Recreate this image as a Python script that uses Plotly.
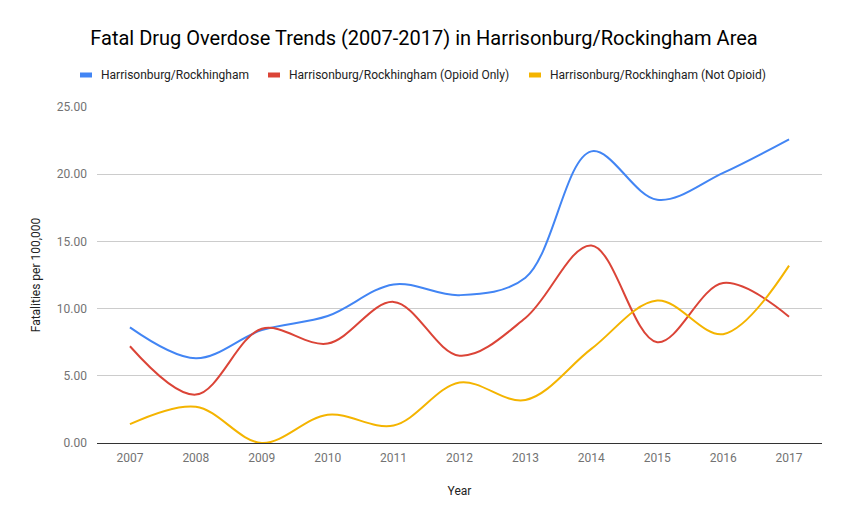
import plotly.graph_objects as go

years = ["2007", "2008", "2009", "2010", "2011", "2012", "2013", "2014", "2015", "2016", "2017"]
total = [8.6, 6.3, 8.4, 9.45, 11.8, 11.0, 12.3, 21.7, 18.1, 20.1, 22.6]
opioid = [7.2, 3.6, 8.5, 7.4, 10.5, 6.5, 9.3, 14.7, 7.5, 11.9, 9.4]
not_opioid = [1.4, 2.7, 0.0, 2.1, 1.3, 4.5, 3.2, 7.0, 10.6, 8.1, 13.2]

names = ["Harrisonburg/Rockhingham",
         "Harrisonburg/Rockhingham (Opioid Only)",
         "Harrisonburg/Rockhingham (Not Opioid)"]
colors = ["#4285F4", "#DB4437", "#F4B400"]

W, H = 848, 524
ML, MR, MT, MB = 97, 26, 107, 81
PW, PH = W - ML - MR, H - MT - MB

def px_x(px):
    return (px - ML) / PW

def px_y(py):
    return (H - MB - py) / PH

fig = go.Figure()
for vals, name, col in zip([total, opioid, not_opioid], names, colors):
    fig.add_trace(go.Scatter(
        x=years, y=vals, name=name, mode="lines",
        line=dict(color=col, width=2, shape="spline", smoothing=1.0),
        cliponaxis=False, showlegend=False,
    ))

# custom legend (layout decoration)
legend_sym_x = [80, 268, 529]
ly = 75
shapes = []
annotations = []
for sx, name, col in zip(legend_sym_x, names, colors):
    shapes.append(dict(type="rect", xref="paper", yref="paper",
                       x0=px_x(sx), x1=px_x(sx + 12), y0=px_y(ly + 2.5), y1=px_y(ly - 2.5),
                       fillcolor=col, line=dict(width=0)))
    annotations.append(dict(text=name, xref="paper", yref="paper",
                            x=px_x(sx + 19), y=px_y(ly), xanchor="left", yanchor="middle",
                            showarrow=False, font=dict(size=12, color="#222222", family="Roboto")))

fig.update_layout(
    width=W, height=H,
    paper_bgcolor="white", plot_bgcolor="white",
    font=dict(family="Roboto", color="#222222"),
    margin=dict(l=ML, r=MR, t=MT, b=MB),
    title=dict(text="Fatal Drug Overdose Trends (2007-2017) in Harrisonburg/Rockingham Area",
               x=0.5, xanchor="center", y=0.927, yanchor="middle",
               font=dict(size=20, color="#000000", family="Roboto")),
    showlegend=False,
    shapes=shapes,
    annotations=annotations,
)
fig.update_xaxes(
    type="category", range=[-0.5, 10.5],
    showgrid=False, showline=True, linecolor="#333333", linewidth=1,
    ticks="", ticklabelstandoff=4, tickfont=dict(size=12, color="#737373"),
    title=dict(text="Year", font=dict(size=12, color="#222222"), standoff=22),
)
fig.update_yaxes(
    range=[0, 25], tickvals=[0, 5, 10, 15, 20, 25], tickformat=".2f",
    showgrid=True, gridcolor="#cccccc", zeroline=False,
    ticks="", ticklabelstandoff=9, tickfont=dict(size=12, color="#737373"),
    title=dict(text="Fatalities per 100,000", font=dict(size=12, color="#222222"), standoff=13),
)
fig.write_html("out.html", post_script="document.body.style.margin='0';",
               config={"displayModeBar": False})
